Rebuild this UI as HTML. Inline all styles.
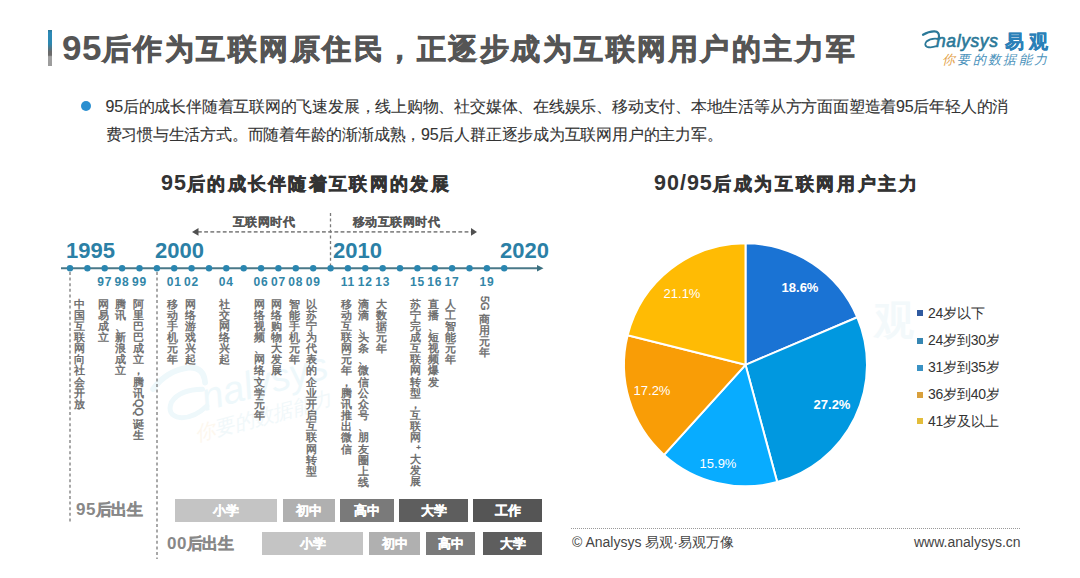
<!DOCTYPE html>
<html><head><meta charset="utf-8">
<style>
*{margin:0;padding:0;box-sizing:border-box}
html,body{width:1080px;height:578px;overflow:hidden;background:#fff}
body{position:relative;font-family:"Liberation Sans",sans-serif;color:#333}
.a{position:absolute;white-space:nowrap;line-height:1}
#bar{left:48px;top:30px;width:4px;height:36px;background:linear-gradient(#2a7898 0,#2c8ab8 8%,#2c88b0 38%,#6a6a6a 60%,#6c6c6c 70%,#a0a0a0 74%,#9c9c9c 100%)}
#title{left:62px;top:29px;font-size:29px;letter-spacing:2.5px;font-weight:bold;color:#555;-webkit-text-stroke:0.8px #555}
#title b{font-size:35px;letter-spacing:0.5px;-webkit-text-stroke:0;position:relative;top:0.5px}
#dot{left:81px;top:101px;width:10px;height:10px;border-radius:50%;background:#2a8fd0}
.para{left:105.5px;font-size:16px;letter-spacing:-0.22px;color:#333;-webkit-text-stroke:0.1px #333}
.ct{font-weight:bold;color:#333;font-size:18px;letter-spacing:2.3px;-webkit-text-stroke:0.6px #333}
.ct b{font-size:21.5px;letter-spacing:1px;-webkit-text-stroke:0}
.yr{font-size:22px;font-weight:bold;color:#2b80a6;top:240px}
.ys{font-size:12px;letter-spacing:0.8px;font-weight:bold;color:#3286a8;top:276px}
.vt{font-size:11px;color:#666;line-height:11px;top:298.5px;width:11px;-webkit-text-stroke:0.4px #6a6a6a}
.vt i{display:block;font-style:normal;height:11.17px;text-align:center;position:relative}
.vt i.rl b{position:absolute;left:0;top:0;font-weight:normal;transform-origin:0 0;transform:translate(11px,0) rotate(90deg)}
.vt i.pn{text-align:left}
.era{font-size:12.4px;letter-spacing:0.45px;font-weight:bold;color:#555;top:216px;-webkit-text-stroke:0.15px #555}
.bar{height:23px;color:#fff;font-size:13px;font-weight:bold;display:flex;align-items:center;justify-content:center;-webkit-text-stroke:0.3px #fff}
.lbl{font-size:16px;font-weight:bold;color:#888;letter-spacing:-0.6px;-webkit-text-stroke:0.35px #888}
.lbl b{font-size:17px;letter-spacing:0.5px;-webkit-text-stroke:0}
.lg{left:928px;font-size:14px;color:#333;letter-spacing:-0.2px}
.sq{left:917px;width:6px;height:6px}
.ft{font-size:14px;color:#444}
</style></head><body>
<!-- watermark -->
<svg class="a" style="left:0;top:0" width="1080" height="578">
  <g transform="translate(37 88) scale(0.72) rotate(-15 260 400)" fill="#eef8fb" font-family="Liberation Sans, sans-serif">
    <path d="M160,392 Q185,372 215,376 Q236,380 232,402" fill="none" stroke="#eef8fb" stroke-width="8" stroke-linecap="round"/>
    <path d="M226,410 Q196,402 180,416 Q168,432 186,440 Q204,446 226,434" fill="none" stroke="#eef8fb" stroke-width="7" stroke-linecap="round"/>
    <text x="222" y="440" font-size="54" font-style="italic">nalysys</text>
    <text x="200" y="478" font-size="28" font-style="italic" fill="#fdf7ee">你<tspan fill="#f1f8fa">要的数据能力</tspan></text>
  </g>
  <text x="874" y="334" font-size="40" font-weight="bold" fill="#f3f9fb" font-family="Liberation Sans, sans-serif">观</text>
</svg>
<div id="bar" class="a"></div>
<div id="title" class="a"><b>95</b>后作为互联网原住民，正逐步成为互联网用户的主力军</div>

<!-- logo -->
<svg class="a" style="left:0;top:0" width="1080" height="80">
  <g fill="none" stroke="#2a7898" stroke-linecap="round">
    <path d="M923,34.8 Q929,31.2 934.5,31.4 Q939.5,31.8 939,36.8" stroke-width="2.2"/>
    <path d="M938.5,39 Q931,37.8 926.5,41.5 Q923.8,45 927,46.8 Q931,48 936.5,46.2" stroke-width="1.8"/>
  </g>
</svg>
<div class="a" style="left:936px;top:33px;font-size:17.5px;font-style:italic;color:#2a7898;letter-spacing:0.6px;-webkit-text-stroke:0.6px #2a7898">nalysys</div>
<div class="a" style="left:1005px;top:32px;font-size:19px;font-weight:bold;color:#2a80b8;letter-spacing:4.5px;-webkit-text-stroke:0.3px #2a80b8">易观</div>
<div class="a" style="left:942px;top:53px;font-size:13px;font-style:italic;color:#4a92bb;letter-spacing:2.3px"><span style="color:#e3a24a">你</span>要的数据能力</div>

<div id="dot" class="a"></div>
<div class="a para" style="top:99px">95后的成长伴随着互联网的飞速发展，线上购物、社交媒体、在线娱乐、移动支付、本地生活等从方方面面塑造着95后年轻人的消</div>
<div class="a para" style="top:127px">费习惯与生活方式。而随着年龄的渐渐成熟，95后人群正逐步成为互联网用户的主力军。</div>

<div class="a ct" style="left:161px;top:173px"><b>95</b>后的成长伴随着互联网的发展</div>
<div class="a ct" style="left:654px;top:173px;letter-spacing:2.7px"><b>90/95</b>后成为互联网用户主力</div>

<!-- timeline svg -->
<svg class="a" style="left:0;top:0" width="1080" height="578">
  <g stroke="#8a8a8a" stroke-width="1.6" stroke-dasharray="3.8 2.4" fill="none">
    <line x1="198" y1="231.9" x2="471.5" y2="231.9"/>
  </g>
  <g stroke="#7a7a7a" stroke-width="1.3" stroke-dasharray="3 2.6" fill="none">
    <line x1="330.5" y1="213" x2="330.5" y2="268"/>
    <line x1="70" y1="272" x2="70" y2="524"/>
    <line x1="157" y1="272" x2="157" y2="559"/>
  </g>
  <path d="M192,231.9 L198.5,228 L198.5,235.8 Z" fill="#505050"/>
  <path d="M477,231.9 L471,228 L471,235.8 Z" fill="#505050"/>
  <line x1="61" y1="268.2" x2="539" y2="268.2" stroke="#4a7888" stroke-width="2"/>
  <path d="M543.5,268.2 L537,265 L537,271.5 Z" fill="#3a7080"/>
  <g fill="#2a86b0"><circle cx="70.0" cy="268.2" r="3.2"/><circle cx="87.4" cy="268.2" r="3.2"/><circle cx="104.7" cy="268.2" r="3.2"/><circle cx="122.1" cy="268.2" r="3.2"/><circle cx="139.5" cy="268.2" r="3.2"/><circle cx="156.9" cy="268.2" r="3.2"/><circle cx="174.2" cy="268.2" r="3.2"/><circle cx="191.6" cy="268.2" r="3.2"/><circle cx="209.0" cy="268.2" r="3.2"/><circle cx="226.3" cy="268.2" r="3.2"/><circle cx="243.7" cy="268.2" r="3.2"/><circle cx="261.1" cy="268.2" r="3.2"/><circle cx="278.4" cy="268.2" r="3.2"/><circle cx="295.8" cy="268.2" r="3.2"/><circle cx="313.2" cy="268.2" r="3.2"/><circle cx="330.6" cy="268.2" r="3.2"/><circle cx="347.9" cy="268.2" r="3.2"/><circle cx="365.3" cy="268.2" r="3.2"/><circle cx="382.7" cy="268.2" r="3.2"/><circle cx="400.0" cy="268.2" r="3.2"/><circle cx="417.4" cy="268.2" r="3.2"/><circle cx="434.8" cy="268.2" r="3.2"/><circle cx="452.1" cy="268.2" r="3.2"/><circle cx="469.5" cy="268.2" r="3.2"/><circle cx="486.9" cy="268.2" r="3.2"/><circle cx="504.2" cy="268.2" r="3.2"/></g>
</svg>

<div class="a yr" style="left:66px">1995</div>
<div class="a yr" style="left:155px">2000</div>
<div class="a yr" style="left:333px">2010</div>
<div class="a yr" style="left:500px">2020</div>

<div class="a era" style="left:233px">互联网时代</div>
<div class="a era" style="left:353px">移动互联网时代</div>

<div class="a ys" style="left:84.7px;width:40px;text-align:center">97</div>
<div class="a ys" style="left:102.1px;width:40px;text-align:center">98</div>
<div class="a ys" style="left:119.5px;width:40px;text-align:center">99</div>
<div class="a ys" style="left:154.2px;width:40px;text-align:center">01</div>
<div class="a ys" style="left:171.6px;width:40px;text-align:center">02</div>
<div class="a ys" style="left:206.3px;width:40px;text-align:center">04</div>
<div class="a ys" style="left:241.1px;width:40px;text-align:center">06</div>
<div class="a ys" style="left:258.4px;width:40px;text-align:center">07</div>
<div class="a ys" style="left:275.8px;width:40px;text-align:center">08</div>
<div class="a ys" style="left:293.2px;width:40px;text-align:center">09</div>
<div class="a ys" style="left:327.9px;width:40px;text-align:center">11</div>
<div class="a ys" style="left:345.3px;width:40px;text-align:center">12</div>
<div class="a ys" style="left:362.7px;width:40px;text-align:center">13</div>
<div class="a ys" style="left:397.4px;width:40px;text-align:center">15</div>
<div class="a ys" style="left:414.8px;width:40px;text-align:center">16</div>
<div class="a ys" style="left:432.1px;width:40px;text-align:center">17</div>
<div class="a ys" style="left:466.9px;width:40px;text-align:center">19</div>

<div class="a vt" style="left:73.5px"><i>中</i><i>国</i><i>互</i><i>联</i><i>网</i><i>向</i><i>社</i><i>会</i><i>开</i><i>放</i></div>
<div class="a vt" style="left:97.7px"><i>网</i><i>易</i><i>成</i><i>立</i></div>
<div class="a vt" style="left:115.1px"><i>腾</i><i>讯</i><i class="pn">、</i><i>新</i><i>浪</i><i>成</i><i>立</i></div>
<div class="a vt" style="left:132.5px"><i>阿</i><i>里</i><i>巴</i><i>巴</i><i>成</i><i>立</i><i class="pn">，</i><i>腾</i><i>讯</i><i class="rl" style="height:20px"><b>QQ</b></i><i>诞</i><i>生</i></div>
<div class="a vt" style="left:167.2px"><i>移</i><i>动</i><i>手</i><i>机</i><i>元</i><i>年</i></div>
<div class="a vt" style="left:184.6px"><i>网</i><i>络</i><i>游</i><i>戏</i><i>兴</i><i>起</i></div>
<div class="a vt" style="left:219.3px"><i>社</i><i>交</i><i>网</i><i>络</i><i>兴</i><i>起</i></div>
<div class="a vt" style="left:254.1px"><i>网</i><i>络</i><i>视</i><i>频</i><i class="pn">、</i><i>网</i><i>络</i><i>文</i><i>学</i><i>元</i><i>年</i></div>
<div class="a vt" style="left:271.4px"><i>网</i><i>络</i><i>购</i><i>物</i><i>大</i><i>发</i><i>展</i></div>
<div class="a vt" style="left:288.8px"><i>智</i><i>能</i><i>手</i><i>机</i><i>元</i><i>年</i></div>
<div class="a vt" style="left:306.2px"><i>以</i><i>苏</i><i>宁</i><i>为</i><i>代</i><i>表</i><i>的</i><i>企</i><i>业</i><i>开</i><i>启</i><i>互</i><i>联</i><i>网</i><i>转</i><i>型</i></div>
<div class="a vt" style="left:340.9px"><i>移</i><i>动</i><i>互</i><i>联</i><i>网</i><i>元</i><i>年</i><i class="pn">，</i><i>腾</i><i>讯</i><i>推</i><i>出</i><i>微</i><i>信</i></div>
<div class="a vt" style="left:358.3px"><i>滴</i><i>滴</i><i class="pn">、</i><i>头</i><i>条</i><i class="pn">、</i><i>微</i><i>信</i><i>公</i><i>众</i><i>号</i><i class="pn">、</i><i>朋</i><i>友</i><i>圈</i><i>上</i><i>线</i></div>
<div class="a vt" style="left:375.7px"><i>大</i><i>数</i><i>据</i><i>元</i><i>年</i></div>
<div class="a vt" style="left:410.4px"><i>苏</i><i>宁</i><i>完</i><i>成</i><i>互</i><i>联</i><i>网</i><i>转</i><i>型</i><i class="pn">，</i><i>互</i><i>联</i><i>网</i><i style="height:10px;font-size:8px;line-height:8px;text-align:right;padding-right:0.5px">+</i><i>大</i><i>发</i><i>展</i></div>
<div class="a vt" style="left:427.8px"><i>直</i><i>播</i><i class="pn">、</i><i>短</i><i>视</i><i>频</i><i>爆</i><i>发</i></div>
<div class="a vt" style="left:445.1px"><i>人</i><i>工</i><i>智</i><i>能</i><i>元</i><i>年</i></div>
<div class="a vt" style="left:478.7px;top:295.5px"><i class="rl" style="height:18px"><b>5G</b></i><i>商</i><i>用</i><i>元</i><i>年</i></div>


<div class="a lbl" style="left:76px;top:501px"><b>95</b>后出生</div>
<div class="a lbl" style="left:167px;top:535px"><b>00</b>后出生</div>

<div class="a bar" style="left:175px;top:499px;width:102px;background:#c4c4c4">小学</div>
<div class="a bar" style="left:283px;top:499px;width:52px;background:#b0b0b0">初中</div>
<div class="a bar" style="left:340px;top:499px;width:54px;background:#7a7a7a">高中</div>
<div class="a bar" style="left:399px;top:499px;width:69px;background:#5e5e5e">大学</div>
<div class="a bar" style="left:473px;top:499px;width:69px;background:#555">工作</div>

<div class="a bar" style="left:262px;top:532px;width:101px;background:#c4c4c4">小学</div>
<div class="a bar" style="left:369px;top:532px;width:51px;background:#b0b0b0">初中</div>
<div class="a bar" style="left:426px;top:532px;width:49px;background:#7a7a7a">高中</div>
<div class="a bar" style="left:483px;top:532px;width:59px;background:#5e5e5e">大学</div>

<!-- pie -->
<svg class="a" style="left:0;top:0" width="1080" height="578">
  <g stroke="#fff" stroke-width="2" stroke-linejoin="round">
  <path fill="#1a73d4" d="M745.5,364.8 L745.50,243.30 A121.5,121.5 0 0 1 857.31,317.25 Z"/>
  <path fill="#0098e0" d="M745.5,364.8 L857.31,317.25 A121.5,121.5 0 0 1 777.19,482.09 Z"/>
  <path fill="#08acff" d="M745.5,364.8 L777.19,482.09 A121.5,121.5 0 0 1 664.01,454.92 Z"/>
  <path fill="#f99d06" d="M745.5,364.8 L664.01,454.92 A121.5,121.5 0 0 1 627.63,335.32 Z"/>
  <path fill="#ffbb04" d="M745.5,364.8 L627.63,335.32 A121.5,121.5 0 0 1 745.50,243.30 Z"/>
  </g>
  <g fill="#fff" font-family="Liberation Sans, sans-serif" font-size="13" text-anchor="middle">
    <text x="800" y="292" font-weight="bold">18.6%</text>
    <text x="832" y="409" font-weight="bold">27.2%</text>
    <text x="718" y="468">15.9%</text>
    <text x="652" y="395">17.2%</text>
    <text x="682" y="298">21.1%</text>
  </g>
</svg>

<div class="a sq" style="top:310px;background:#2f5aa0"></div>
<div class="a sq" style="top:337.5px;background:#3686b2"></div>
<div class="a sq" style="top:365px;background:#3a92c4"></div>
<div class="a sq" style="top:391.5px;background:#d9a03c"></div>
<div class="a sq" style="top:418px;background:#e3bd3a"></div>
<div class="a lg" style="top:306px">24岁以下</div>
<div class="a lg" style="top:333px">24岁到30岁</div>
<div class="a lg" style="top:360px">31岁到35岁</div>
<div class="a lg" style="top:387px">36岁到40岁</div>
<div class="a lg" style="top:414px">41岁及以上</div>

<!-- footer -->
<div class="a" style="left:571px;top:528px;width:449px;border-top:1px dotted #999"></div>
<div class="a ft" style="left:572px;top:535px">© Analysys 易观·易观万像</div>
<div class="a ft" style="left:914px;top:535px">www.analysys.cn</div>

</body></html>
